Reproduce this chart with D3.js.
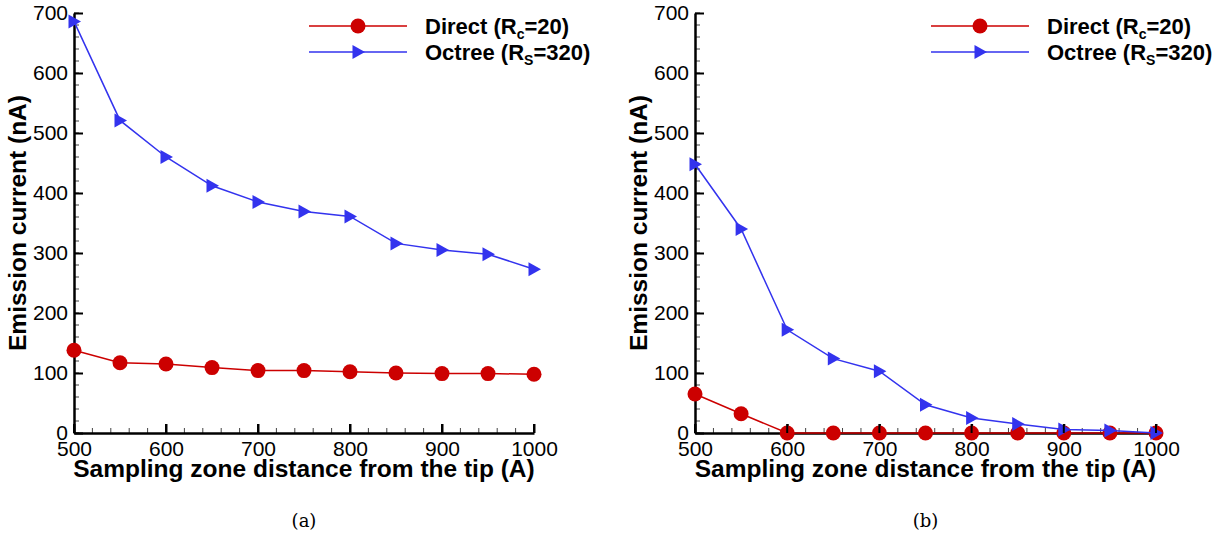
<!DOCTYPE html>
<html>
<head>
<meta charset="utf-8">
<script src="https://cdn.jsdelivr.net/npm/d3@7"></script>
<style>
  body { margin: 0; background: #fff; }
  text { font-family: "Liberation Sans", Arial, sans-serif; }
</style>
</head>
<body>
<div id="chart"></div>
<script>
const distances = [500, 550, 600, 650, 700, 750, 800, 850, 900, 950, 1000];

// panel (a)
const directA = [138, 117, 115, 109, 104, 104, 102, 100, 99, 99, 98];
const octreeA = [686, 521, 460, 412, 385, 369, 361, 316, 305, 298, 273];

// panel (b)
const directB = [65, 32, 0, 0, 0, 0, 0, 0, 0, 0, 0];
const octreeB = [448, 340, 172, 124, 103, 47, 25, 15, 6, 4, 0];

const xTicks = [500, 600, 700, 800, 900, 1000];
const yTicks = [0, 100, 200, 300, 400, 500, 600, 700];

const red = '#cc0000';
const blue = '#3333ee';

const svg = d3.select('#chart')
                .append('svg')
                .attr('width', 1215)
                .attr('height', 535);

const panels = [
  {left: 74, right: 534, direct: directA, octree: octreeA, caption: '(a)'},
  {left: 695, right: 1156, direct: directB, octree: octreeB, caption: '(b)'}
];

const plotTop = 13;
const plotBottom = 433;

const triangle = 'M-5.5,-7L7,0L-5.5,7Z';

panels.forEach(p => {
  const g = svg.append('g');

  const x = d3.scaleLinear().domain([500, 1000]).range([p.left, p.right]);
  const y = d3.scaleLinear().domain([0, 700]).range([plotBottom, plotTop]);

  // minor ticks
  g.selectAll('line.xminor')
      .data(d3.range(500, 1001, 20))
      .join('line')
      .attr('x1', d => x(d)).attr('x2', d => x(d))
      .attr('y1', plotBottom).attr('y2', plotBottom - 5)
      .attr('stroke', '#444').attr('stroke-width', 1);
  g.selectAll('line.yminor')
      .data(d3.range(0, 701, 20))
      .join('line')
      .attr('x1', p.left).attr('x2', p.left + 5)
      .attr('y1', d => y(d)).attr('y2', d => y(d))
      .attr('stroke', '#444').attr('stroke-width', 1);

  // x axis
  const xAxis = g.append('g')
      .attr('transform', `translate(0, ${plotBottom})`)
      .call(d3.axisBottom(x).tickValues(xTicks).tickFormat(d3.format('d'))
          .tickSizeInner(-9).tickSizeOuter(0).tickPadding(7));
  // y axis
  const yAxis = g.append('g')
      .attr('transform', `translate(${p.left}, 0)`)
      .call(d3.axisLeft(y).tickValues(yTicks).tickFormat(d3.format('d'))
          .tickSizeInner(-9).tickSizeOuter(0).tickPadding(6));

  [xAxis, yAxis].forEach(a => {
    a.attr('font-size', null).attr('font-family', null);
    a.select('.domain').attr('stroke', '#000').attr('stroke-width', 2.5);
    a.selectAll('.tick line').attr('stroke', '#000').attr('stroke-width', 2);
    a.selectAll('.tick text')
        .attr('fill', '#000')
        .style('font-size', '21px');
  });
  yAxis.selectAll('.tick text').attr('x', -6);
  xAxis.selectAll('.tick text').attr('y', 0).attr('dy', '1.08em');

  const line = d3.line()
      .x((d, i) => x(distances[i]))
      .y(d => y(d));

  // direct line + circles
  g.append('path')
      .datum(p.direct)
      .attr('d', line)
      .attr('fill', 'none')
      .attr('stroke', red)
      .attr('stroke-width', 1.5);

  g.selectAll('circle.direct')
      .data(p.direct)
      .join('circle')
      .classed('direct', true)
      .attr('cx', (d, i) => x(distances[i]))
      .attr('cy', d => y(d))
      .attr('r', 7.5)
      .attr('fill', red);

  // octree line + triangles
  g.append('path')
      .datum(p.octree)
      .attr('d', line)
      .attr('fill', 'none')
      .attr('stroke', blue)
      .attr('stroke-width', 1.5);

  g.selectAll('path.octree')
      .data(p.octree)
      .join('path')
      .classed('octree', true)
      .attr('d', triangle)
      .attr('transform', (d, i) => `translate(${x(distances[i])}, ${y(d)})`)
      .attr('fill', blue);

  // major x ticks sit on top of the markers
  g.selectAll('line.xmajor')
      .data(xTicks)
      .join('line')
      .classed('xmajor', true)
      .attr('x1', d => x(d)).attr('x2', d => x(d))
      .attr('y1', plotBottom).attr('y2', plotBottom - 9)
      .attr('stroke', '#000').attr('stroke-width', 2);

  // axis titles
  g.append('text')
      .attr('x', (p.left + p.right) / 2)
      .attr('y', 477)
      .attr('text-anchor', 'middle')
      .style('font-size', '24.5px')
      .style('font-weight', 'bold')
      .text('Sampling zone distance from the tip (A)');

  g.append('text')
      .attr('transform', `translate(${p.left - 48}, ${(plotTop + plotBottom) / 2}) rotate(-90)`)
      .attr('text-anchor', 'middle')
      .style('font-size', '24.5px')
      .style('font-weight', 'bold')
      .text('Emission current (nA)');

  // caption
  g.append('text')
      .attr('x', (p.left + p.right) / 2)
      .attr('y', 527)
      .attr('text-anchor', 'middle')
      .style('font-family', '"DejaVu Serif", "Liberation Serif", serif')
      .style('font-size', '18px')
      .text(p.caption);

  // legend
  const leg = g.append('g').attr('transform', `translate(${p.right - 225}, 0)`);
  [{name: 'Direct (R', sub: 'c', tail: '=20)', color: red, yy: 26, mark: 'circle'},
   {name: 'Octree (R', sub: 'S', tail: '=320)', color: blue, yy: 52, mark: 'tri'}]
      .forEach(e => {
        leg.append('line')
            .attr('x1', 0).attr('x2', 98)
            .attr('y1', e.yy).attr('y2', e.yy)
            .attr('stroke', e.color).attr('stroke-width', 1.5);
        if (e.mark === 'circle') {
          leg.append('circle').attr('cx', 49).attr('cy', e.yy).attr('r', 7.5).attr('fill', e.color);
        } else {
          leg.append('path').attr('d', triangle)
              .attr('transform', `translate(49, ${e.yy})`).attr('fill', e.color);
        }
        const t = leg.append('text')
            .attr('x', 116).attr('y', e.yy + 8)
            .style('font-size', '22px')
            .style('font-weight', 'bold');
        t.append('tspan').text(e.name);
        t.append('tspan').attr('dy', 5).style('font-size', '14px').text(e.sub);
        t.append('tspan').attr('dy', -5).text(e.tail);
      });
});
</script>
</body>
</html>
